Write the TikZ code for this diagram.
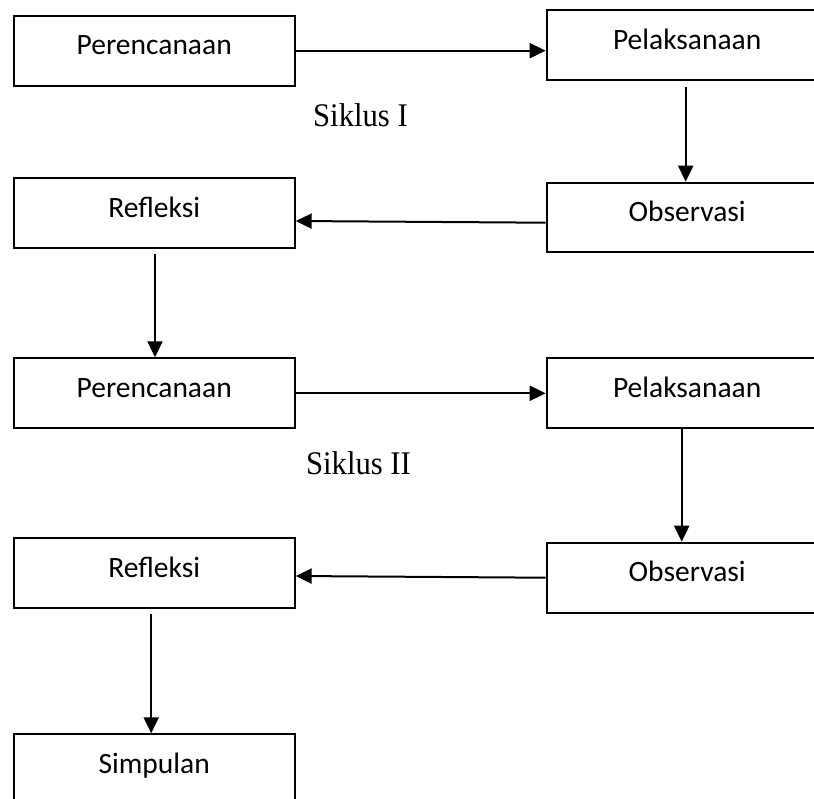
\documentclass[tikz,border=0pt]{standalone}
\usepackage{fontspec}
\setmainfont{Liberation Serif}
\newfontfamily\boxfont{Carlito}
\usetikzlibrary{arrows.meta}
\tikzset{
  stagebox/.style={draw=black, line width=2pt, anchor=north west, inner sep=0pt,
    minimum width=281pt, minimum height=70pt, text height=39pt, text depth=31pt,
    font=\boxfont\fontsize{29.5}{34}\selectfont},
  flow/.style={line width=2pt, -{Triangle[length=16pt,width=15pt]}},
  cyclelabel/.style={anchor=base, inner sep=0pt, font=\fontsize{33}{38}\selectfont}
}
\begin{document}
\begin{tikzpicture}[x=1pt, y=-1pt]
\useasboundingbox (0,0) rectangle (814,798);
\clip (0,0) rectangle (814,798);
% cycle I
\node[stagebox] (p1) at (12.7,14.7) {Perencanaan};
\node[stagebox] (pel1) at (545.7,9.3) {Pelaksanaan};
\node[stagebox, minimum height=69pt, text depth=30pt] (obs1) at (545.7,181.7) {Observasi};
\node[stagebox] (ref1) at (12.7,177) {Refleksi};
\node[cyclelabel] (sik1) at (360.5,126) {\scalebox{0.93}[1]{Siklus I}};
% cycle II
\node[stagebox] (p2) at (12.7,357.3) {Perencanaan};
\node[stagebox] (pel2) at (545.7,357.3) {Pelaksanaan};
\node[stagebox] (obs2) at (545.7,541.7) {Observasi};
\node[stagebox] (ref2) at (12.7,537.3) {Refleksi};
\node[cyclelabel] (sik2) at (358.5,474) {\scalebox{0.93}[1]{Siklus II}};
\node[stagebox] (simp) at (12.7,733.3) {Simpulan};
% connectors
\draw[flow] (p1.east) -- (p1.east -| pel1.west);
\draw[flow] ([xshift=-1.5pt,yshift=-6pt]pel1.south) -- ([xshift=-1.5pt]obs1.north);
\draw[flow] ([yshift=-5.5pt]obs1.west) -- ([yshift=-8pt]ref1.east);
\draw[flow] ([xshift=0.8pt,yshift=-5pt]ref1.south) -- ([xshift=0.8pt]p2.north);
\draw[flow] (p2.east) -- (p2.east -| pel2.west);
\draw[flow] ([xshift=-5.5pt]pel2.south) -- ([xshift=-5.5pt]obs2.north);
\draw[flow] (obs2.west) -- ([yshift=-2.7pt]ref2.east);
\draw[flow] ([xshift=-3pt,yshift=-5pt]ref2.south) -- ([xshift=-3pt]simp.north);
\end{tikzpicture}
\end{document}
